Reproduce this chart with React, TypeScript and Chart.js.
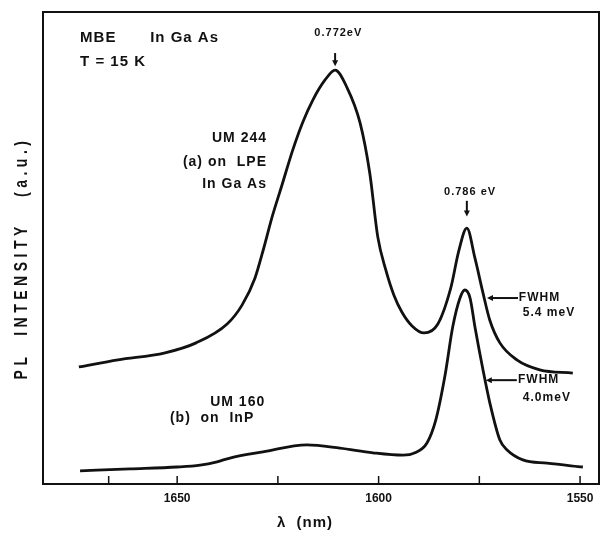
import React, { useEffect, useRef } from "react";
import { Chart, registerables } from "chart.js";

Chart.register(...registerables);

// Curve (a): UM 244 on LPE InGaAs
const lambdaA = [
  1674.4, 1664.7, 1653.0, 1645.3, 1637.6, 1633.9, 1630.7, 1628.5, 1626.5, 1624.0,
  1621.3, 1618.8, 1616.3, 1613.3, 1610.8, 1607.9, 1604.6, 1602.2, 1600.2, 1598.2,
  1596.2, 1594.2, 1591.7, 1588.7, 1585.3, 1582.1, 1580.1, 1578.1, 1576.1, 1574.1,
  1572.4, 1569.9, 1565.7, 1560.0, 1551.8,
];
const intensityA = [
  24.8, 26.3, 27.8, 29.9, 33.9, 37.9, 43.6, 50.0, 56.4, 63.3,
  70.8, 76.7, 81.4, 85.6, 87.7, 84.1, 76.5, 65.9, 52.3, 45.3,
  40.0, 36.4, 33.5, 32.0, 33.9, 41.5, 49.4, 54.2, 47.9, 40.5,
  34.7, 29.9, 26.3, 24.2, 23.5,
];

// Curve (b): UM 160 on InP
const lambdaB = [
  1674.1, 1661.7, 1650.0, 1644.3, 1640.1, 1636.9, 1628.7, 1617.8, 1609.6, 1601.4,
  1594.0, 1591.0, 1588.0, 1585.8, 1583.5, 1581.6, 1579.8, 1578.6, 1577.3, 1576.1,
  1574.1, 1572.4, 1569.9, 1568.1, 1564.2, 1558.2, 1549.3,
];
const intensityB = [
  2.8, 3.2, 3.6, 4.0, 4.7, 5.5, 6.8, 8.3, 7.6, 6.6,
  6.1, 6.6, 8.7, 13.6, 23.1, 33.3, 39.4, 41.1, 39.4, 33.3,
  24.2, 17.2, 9.3, 7.2, 5.1, 4.4, 3.6,
];

const xLabelTicks = [1650, 1600, 1550];
const xMarkTicks = [1667, 1650, 1625, 1600, 1575, 1550];
const X_MIN = 1545.3;
const X_MAX = 1683.3;

const FONT = '"Liberation Sans", Arial, Helvetica, sans-serif';

type Note = { text: string; x: number; y: number; align: CanvasTextAlign; size: number };
const notes: Note[] = [
  { text: "MBE", x: 1674.1, y: 94.5, align: "left", size: 15 },
  { text: "In Ga As", x: 1656.7, y: 94.5, align: "left", size: 15 },
  { text: "T = 15 K", x: 1674.1, y: 89.4, align: "left", size: 15 },
  { text: "0.772eV", x: 1610.0, y: 95.6, align: "center", size: 11 },
  { text: "UM 244", x: 1627.7, y: 73.3, align: "right", size: 14 },
  { text: "(a) on  LPE", x: 1627.7, y: 68.2, align: "right", size: 14 },
  { text: "In Ga As", x: 1627.7, y: 63.6, align: "right", size: 14 },
  { text: "0.786 eV", x: 1577.3, y: 61.9, align: "center", size: 11 },
  { text: "FWHM", x: 1565.2, y: 39.4, align: "left", size: 12 },
  { text: "5.4 meV", x: 1564.2, y: 36.2, align: "left", size: 12 },
  { text: "FWHM", x: 1565.4, y: 22.0, align: "left", size: 12 },
  { text: "4.0meV", x: 1564.2, y: 18.2, align: "left", size: 12 },
  { text: "UM 160", x: 1641.8, y: 17.4, align: "left", size: 14 },
  { text: "(b)  on  InP", x: 1651.8, y: 14.0, align: "left", size: 14 },
];

// arrows: from (x1,y1) to (x2,y2), head at end
const arrows = [
  [1610.8, 91.3, 1610.8, 88.5],
  [1578.1, 60.0, 1578.1, 56.7],
  [1565.4, 39.4, 1573.1, 39.4],
  [1565.7, 22.0, 1573.4, 22.0],
];

const decor = {
  id: "decor",
  afterDraw(chart: any) {
    const { ctx, chartArea, scales } = chart;
    const xs = scales.x;
    const ys = scales.y;
    ctx.save();
    ctx.strokeStyle = "#111";
    ctx.fillStyle = "#111";
    // frame
    ctx.lineWidth = 2;
    ctx.strokeRect(chartArea.left, chartArea.top, chartArea.right - chartArea.left, chartArea.bottom - chartArea.top);
    // inward tick marks
    ctx.lineWidth = 1.5;
    for (const v of xMarkTicks) {
      const px = xs.getPixelForValue(v);
      ctx.beginPath();
      ctx.moveTo(px, chartArea.bottom);
      ctx.lineTo(px, chartArea.bottom - 8);
      ctx.stroke();
    }
    // arrows
    for (const [x1, y1, x2, y2] of arrows) {
      const ax = xs.getPixelForValue(x1);
      const ay = ys.getPixelForValue(y1);
      const bx = xs.getPixelForValue(x2);
      const by = ys.getPixelForValue(y2);
      const ang = Math.atan2(by - ay, bx - ax);
      ctx.lineWidth = 2;
      ctx.beginPath();
      ctx.moveTo(ax, ay);
      ctx.lineTo(bx - 4 * Math.cos(ang), by - 4 * Math.sin(ang));
      ctx.stroke();
      ctx.beginPath();
      ctx.moveTo(bx, by);
      ctx.lineTo(bx - 6 * Math.cos(ang) - 3 * Math.sin(ang), by - 6 * Math.sin(ang) + 3 * Math.cos(ang));
      ctx.lineTo(bx - 6 * Math.cos(ang) + 3 * Math.sin(ang), by - 6 * Math.sin(ang) - 3 * Math.cos(ang));
      ctx.closePath();
      ctx.fill();
    }
    // text notes
    ctx.textBaseline = "middle";
    (ctx as any).letterSpacing = "1px";
    for (const n of notes) {
      ctx.font = `bold ${n.size}px ${FONT}`;
      ctx.textAlign = n.align;
      ctx.fillText(n.text, xs.getPixelForValue(n.x), ys.getPixelForValue(n.y));
    }
    // x title
    ctx.font = `bold 15px ${FONT}`;
    ctx.textAlign = "center";
    ctx.fillText("λ  (nm)", 305, 523);
    // y title
    ctx.save();
    ctx.translate(22, 258);
    ctx.rotate(-Math.PI / 2);
    ctx.scale(1, 1.35);
    (ctx as any).letterSpacing = "4.5px";
    ctx.font = `bold 14px ${FONT}`;
    ctx.textAlign = "center";
    ctx.textBaseline = "middle";
    ctx.fillText("PL  INTENSITY   (a.u.)", 0, 0);
    ctx.restore();
    ctx.restore();
  },
};

export default function App() {
  const ref = useRef<HTMLCanvasElement>(null);
  useEffect(() => {
    if (!ref.current) return;
    const chart = new Chart(ref.current, {
      type: "line",
      data: {
        datasets: [
          {
            label: "UM 244",
            data: lambdaA.map((x, i) => ({ x, y: intensityA[i] })),
            borderColor: "#111",
            borderWidth: 2.8,
            pointRadius: 0,
            cubicInterpolationMode: "monotone",
          },
          {
            label: "UM 160",
            data: lambdaB.map((x, i) => ({ x, y: intensityB[i] })),
            borderColor: "#111",
            borderWidth: 2.8,
            pointRadius: 0,
            cubicInterpolationMode: "monotone",
          },
        ],
      },
      options: {
        responsive: false,
        animation: false,
        devicePixelRatio: 1,
        layout: { padding: { top: 12, right: 10, left: 0, bottom: 0 } },
        plugins: { legend: { display: false }, tooltip: { enabled: false } },
        scales: {
          x: {
            type: "linear",
            reverse: true,
            min: X_MIN,
            max: X_MAX,
            grid: { display: false, drawTicks: false },
            border: { display: false },
            afterBuildTicks: (s: any) => {
              s.ticks = xLabelTicks.map((v) => ({ value: v }));
            },
            afterFit: (s: any) => {
              s.height = 52;
            },
            ticks: {
              padding: 7,
              autoSkip: false,
              maxRotation: 0,
              color: "#111",
              font: { family: FONT, size: 12, weight: "bold" },
              callback: (v: any) => String(v),
            },
          },
          y: {
            min: 0,
            max: 100,
            grid: { display: false, drawTicks: false },
            border: { display: false },
            ticks: { display: false },
            afterFit: (s: any) => {
              s.width = 43;
            },
          },
        },
      },
      plugins: [decor],
    } as any);
    return () => chart.destroy();
  }, []);
  return (
    <canvas
      ref={ref}
      width={609}
      height={536}
      style={{ position: "fixed", left: 0, top: 0, display: "block", background: "#fff" }}
    />
  );
}
